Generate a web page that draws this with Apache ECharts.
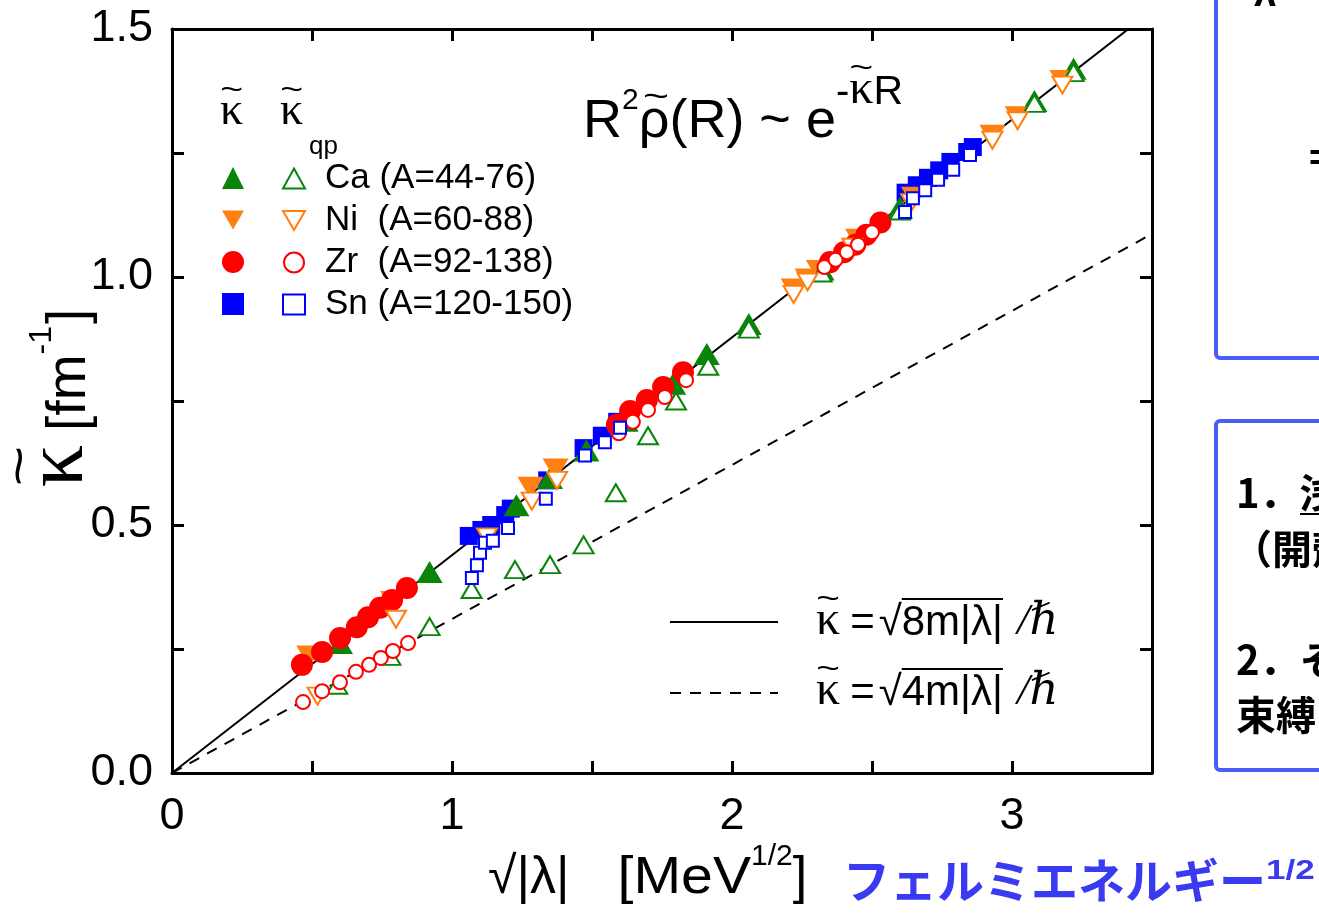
<!DOCTYPE html>
<html>
<head>
<meta charset="utf-8">
<script src="https://cdn.jsdelivr.net/npm/echarts@6/dist/echarts.min.js"></script>
<style>
html, body { margin: 0; padding: 0; background: #fff; }
#chart { width: 1319px; height: 915px; }
</style>
</head>
<body>
<div id="chart"></div>
<script>
// Decay constant kappa~ versus sqrt(|lambda|) for Ca, Ni, Zr, Sn isotopes.
// Filled markers: kappa~ ; open markers: kappa~_qp.

const caKappa = [[0.60,0.262],[0.92,0.405],[1.23,0.54],[1.35,0.595],[1.48,0.65],[1.62,0.71],[1.79,0.785],[1.91,0.845],[2.06,0.905],[2.32,1.015],[2.60,1.14],[3.08,1.355],[3.22,1.42]];
const caKappaQp = [[0.59,0.177],[0.78,0.235],[0.92,0.295],[1.07,0.37],[1.225,0.41],[1.35,0.42],[1.47,0.46],[1.585,0.565],[1.70,0.68],[1.80,0.75],[1.915,0.82],[2.06,0.895],[2.32,1.008],[2.60,1.133],[3.08,1.35],[3.22,1.412]];

const niKappa = [[0.49,0.235],[0.79,0.345],[1.28,0.575],[1.37,0.612],[2.22,0.975],[2.27,0.995],[2.31,1.012],[2.45,1.075],[2.65,1.16],[2.93,1.285],[3.02,1.322],[3.18,1.395]];
const niKappaQp = [[0.52,0.155],[0.80,0.31],[1.125,0.476],[1.285,0.548],[1.375,0.59],[2.22,0.965],[2.27,0.99],[2.43,1.06],[2.64,1.15],[2.93,1.276],[3.02,1.315],[3.18,1.387]];

const zrKappa = [[0.464,0.218],[0.536,0.244],[0.60,0.272],[0.66,0.294],[0.70,0.314],[0.743,0.333],[0.786,0.349],[0.839,0.373],
  [1.589,0.702],[1.636,0.73],[1.696,0.752],[1.754,0.778],[1.825,0.808],
  [2.35,1.03],[2.40,1.05],[2.44,1.065],[2.48,1.085],[2.53,1.11]];
const zrKappaQp = [[0.468,0.143],[0.536,0.165],[0.60,0.183],[0.657,0.204],[0.704,0.218],[0.746,0.232],[0.789,0.246],[0.843,0.262],
  [1.596,0.685],[1.646,0.708],[1.70,0.732],[1.76,0.758],[1.836,0.792],
  [2.33,1.02],[2.37,1.035],[2.41,1.05],[2.45,1.065],[2.50,1.09]];

const snKappa = [[1.06,0.478],[1.105,0.49],[1.14,0.50],[1.19,0.52],[1.21,0.533],[1.34,0.59],[1.47,0.655],[1.535,0.68],[1.59,0.708],
  [2.62,1.17],[2.66,1.185],[2.70,1.20],[2.74,1.215],[2.78,1.232],[2.84,1.252],[2.86,1.262]];
const snKappaQp = [[1.071,0.393],[1.089,0.419],[1.10,0.444],[1.118,0.464],[1.146,0.468],[1.20,0.494],[1.335,0.553],[1.475,0.64],[1.546,0.667],[1.60,0.696],
  [2.618,1.131],[2.646,1.159],[2.69,1.175],[2.736,1.196],[2.79,1.216],[2.85,1.246]];

// kappa = sqrt(8m|lambda|)/hbar (solid) and sqrt(4m|lambda|)/hbar (dashed)
const line8m = [[0,0],[3.5,1.537]];
const line4m = [[0,0],[3.5,1.087]];

const elementNames = ['Ca (A=44-76)', 'Ni  (A=60-88)', 'Zr  (A=92-138)', 'Sn (A=120-150)'];
const xTickLabels = ['0', '1', '2', '3'];
const yTickLabels = ['0.0', '0.5', '1.0', '1.5'];

const GREEN = '#0a840a', ORANGE = '#ff8011', RED = '#ff0000', BLUE = '#0000ff';
const DOWN_TRI = 'path://M0,0L2,0L1,1.732Z';
const SANS = '"Liberation Sans", Arial, sans-serif';
const SERIF = '"Liberation Serif", "DejaVu Serif", serif';
const CJK = '"Noto Sans CJK JP", sans-serif';

// ---- small text-layout helper: pieces share a baseline, placed left to right,
// with optional tilde accents and overlines
const measureCtx = document.createElement('canvas').getContext('2d');
function fontOf(p) { return (p.style || '') + ' ' + (p.weight || '') + ' ' + p.size + 'px ' + p.family; }
function widthOf(p) { measureCtx.font = fontOf(p); return measureCtx.measureText(p.text).width * (p.sx || 1); }
function runText(x0, baseline, pieces, centered) {
  const widths = pieces.map(widthOf);
  let total = 0;
  pieces.forEach((p, i) => { total += widths[i] + (p.gap || 0); });
  let x = centered ? x0 - total / 2 : x0;
  const out = [];
  pieces.forEach((p, i) => {
    const w = widths[i];
    const b = baseline + (p.dy || 0);
    out.push({ type: 'text', x: x, y: b - 0.35 * p.size, z: 10, scaleX: p.sx || 1,
      style: { text: p.text, font: fontOf(p), fill: p.color || '#000', align: 'left', verticalAlign: 'middle' } });
    if (p.tilde) {
      out.push({ type: 'text', x: x + w / 2 + (p.tx || 0), y: b - 0.8 * p.size, z: 10, scaleX: 1.35,
        style: { text: '~', font: Math.round(p.size * 0.62) + 'px ' + SANS, fill: p.color || '#000', align: 'center', verticalAlign: 'middle' } });
    }
    if (p.overline) {
      out.push({ type: 'line', z: 10, shape: { x1: x, y1: b - 0.93 * p.size, x2: x + w, y2: b - 0.93 * p.size },
        style: { stroke: '#000', lineWidth: 2 } });
    }
    x += w + (p.gap || 0);
  });
  return out;
}

function filled(name, data, color, symbol, size) {
  return { name, type: 'scatter', data, symbol, symbolSize: size,
    itemStyle: { color, opacity: 1 }, z: 3 };
}
function open(name, data, color, symbol, size) {
  return { name, type: 'scatter', data, symbol, symbolSize: size,
    itemStyle: { color: '#ffffff', borderColor: color, borderWidth: 2, opacity: 1 }, z: 4 };
}

const chart = echarts.init(document.getElementById('chart'), null, { renderer: 'canvas' });

const axisCommon = {
  axisLine: { show: true, onZero: false, lineStyle: { color: '#000', width: 3 } },
  axisTick: { show: true, inside: true, length: 12, lineStyle: { color: '#000', width: 3 } },
  splitLine: { show: false }
};

const kappaTxt = (size, extra) => Object.assign({ text: 'κ', size, family: SERIF, tilde: true }, extra || {});

function keyRow(baseline, digit) {
  return runText(816, baseline, [
    kappaTxt(48, { gap: 10 }),
    { text: '=', size: 42, family: SANS, gap: 4 },
    { text: '√', size: 42, family: SANS },
    { text: digit + 'm|λ|', size: 42, family: SANS, overline: true, gap: 14 },
    { text: '/ℏ', size: 45, family: SERIF, style: 'italic' }
  ]);
}

const graphics = [].concat(
  // legend column headers
  runText(220, 128, [kappaTxt(46)]),
  runText(280, 128, [kappaTxt(46)]),
  runText(309, 156, [{ text: 'qp', size: 26, family: SANS }]),
  // density asymptotics
  runText(583, 141, [
    { text: 'R', size: 54, family: SANS },
    { text: '2', size: 30, family: SANS, dy: -30 },
    { text: 'ρ', size: 54, family: SANS, tilde: true, tx: 2 },
    { text: '(R) ~ e', size: 54, family: SANS },
    { text: '-', size: 40, family: SANS, dy: -34 },
    { text: 'κ', size: 48, family: SERIF, dy: -34, tilde: true },
    { text: 'R', size: 41, family: SANS, dy: -34 }
  ]),
  // line key
  keyRow(638, '8'),
  keyRow(708, '4'),
  [
    { type: 'line', shape: { x1: 670, y1: 622, x2: 778, y2: 622 }, style: { stroke: '#000', lineWidth: 2 } },
    { type: 'line', shape: { x1: 670, y1: 693, x2: 778, y2: 693 }, style: { stroke: '#000', lineWidth: 2, lineDash: [11, 9] } },
    // y-axis title, rotated to read upwards
    { type: 'group', x: 89, y: 398, rotation: Math.PI / 2, children: runText(0, 0, [
        kappaTxt(84, { gap: 14 }),
        { text: '[fm', size: 55, family: SANS },
        { text: '-1', size: 32, family: SANS, dy: -36, gap: 2 },
        { text: ']', size: 55, family: SANS }
      ], true) }
  ],
  // x-axis title and the Japanese label beside it
  runText(488, 897, [
    { text: '√|λ|', size: 52, family: SANS, gap: 48 },
    { text: '[MeV', size: 52, family: SANS, sx: 1.1 },
    { text: '1/2', size: 30, family: SANS, dy: -30 },
    { text: ']', size: 52, family: SANS }
  ]),
  runText(843, 897, [
    { text: 'フェルミエネルギー', size: 47, family: CJK, weight: 'bold', color: '#3a3af2' },
    { text: '1/2', size: 28, family: SANS, weight: 'bold', color: '#3a3af2', dy: -16, sx: 1.25 }
  ]),
  [
    // side panels
    { type: 'rect', shape: { x: 1216, y: -20, width: 160, height: 378, r: 4 },
      style: { fill: 'none', stroke: '#4b5cf7', lineWidth: 4 } },
    { type: 'text', x: 1254, y: -5, style: { text: 'λ =', font: 'bold 40px ' + SANS, fill: '#000', verticalAlign: 'middle' } },
    { type: 'text', x: 1309, y: 160, style: { text: '=', font: 'bold 36px ' + SANS, fill: '#000', verticalAlign: 'middle' } },
    { type: 'rect', shape: { x: 1216, y: 421, width: 160, height: 349, r: 4 },
      style: { fill: 'none', stroke: '#4b5cf7', lineWidth: 4 } },
    { type: 'text', x: 1236, y: 493, style: { text: '1．浅い束縛', font: 'bold 40px ' + CJK, fill: '#000', verticalAlign: 'middle' } },
    { type: 'line', shape: { x1: 1300, y1: 514, x2: 1330, y2: 514 }, style: { stroke: '#000', lineWidth: 2 } },
    { type: 'text', x: 1232, y: 549, style: { text: '（開殻', font: 'bold 40px ' + CJK, fill: '#000', verticalAlign: 'middle' } },
    { type: 'text', x: 1236, y: 660, style: { text: '2．その', font: 'bold 40px ' + CJK, fill: '#000', verticalAlign: 'middle' } },
    { type: 'text', x: 1236, y: 715, style: { text: '束縛', font: 'bold 40px ' + CJK, fill: '#000', verticalAlign: 'middle' } }
  ]
);

const option = {
  backgroundColor: '#ffffff',
  animation: false,
  grid: { left: 172, right: 167, top: 29, bottom: 142, containLabel: false },
  xAxis: [
    Object.assign({}, axisCommon, {
      type: 'value', min: 0, max: 3.5, interval: 0.5, position: 'bottom',
      axisLabel: { fontFamily: SANS, fontSize: 45, color: '#000', margin: 21,
        formatter: v => (Math.abs(v - Math.round(v)) < 1e-6 && v <= 3 ? xTickLabels[Math.round(v)] : '') }
    }),
    Object.assign({}, axisCommon, {
      type: 'value', min: 0, max: 3.5, interval: 0.5, position: 'top',
      axisLabel: { show: false }
    })
  ],
  yAxis: [
    Object.assign({}, axisCommon, {
      type: 'value', min: 0, max: 1.5, interval: 0.25, position: 'left',
      axisLabel: { fontFamily: SANS, fontSize: 45, color: '#000', margin: 19,
        formatter: v => (Math.abs(v * 2 - Math.round(v * 2)) < 1e-6 ? yTickLabels[Math.round(v * 2)] : '') }
    }),
    Object.assign({}, axisCommon, {
      type: 'value', min: 0, max: 1.5, interval: 0.25, position: 'right',
      axisLabel: { show: false }
    })
  ],
  legend: [
    {
      data: ['κ̃ Ca', 'κ̃ Ni', 'κ̃ Zr', 'κ̃ Sn'],
      orient: 'vertical', left: 217, top: 162, itemWidth: 22, itemHeight: 22, itemGap: 20,
      formatter: () => ' ', textStyle: { fontSize: 20, lineHeight: 22 }, selectedMode: false
    },
    {
      data: elementNames,
      orient: 'vertical', left: 277, top: 156, itemWidth: 22, itemHeight: 20, itemGap: 7,
      textStyle: { fontFamily: SANS, fontSize: 35, color: '#000', padding: [0, 0, 0, 15] }, selectedMode: false
    }
  ],
  series: [
    { name: 'κ = √(8m|λ|)/ħ', type: 'line', data: line8m, symbol: 'none', clip: true,
      lineStyle: { color: '#000', width: 2 }, z: 2 },
    { name: 'κ = √(4m|λ|)/ħ', type: 'line', data: line4m, symbol: 'none', clip: true,
      lineStyle: { color: '#000', width: 2, type: [11, 9] }, z: 2 },
    filled('κ̃ Sn', snKappa, BLUE, 'rect', 18),
    filled('κ̃ Ca', caKappa, GREEN, 'triangle', [26, 22]),
    filled('κ̃ Ni', niKappa, ORANGE, DOWN_TRI, [26, 22]),
    filled('κ̃ Zr', zrKappa, RED, 'circle', 22),
    open(elementNames[0], caKappaQp, GREEN, 'triangle', [20, 17]),
    open(elementNames[1], niKappaQp, ORANGE, DOWN_TRI, [20, 17]),
    open(elementNames[2], zrKappaQp, RED, 'circle', 14),
    open(elementNames[3], snKappaQp, BLUE, 'rect', 12)
  ],
  graphic: graphics
};

chart.setOption(option);
</script>
</body>
</html>
